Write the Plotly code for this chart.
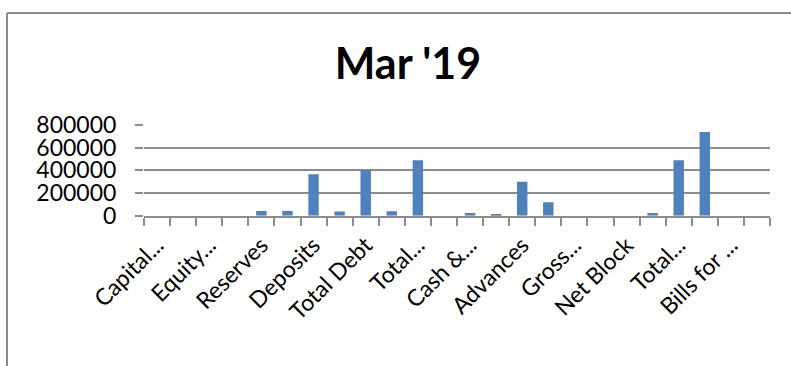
import plotly.graph_objects as go

W, H = 791, 366

categories = [
    "Capital and Liabilities:", "Total Share Capital", "Equity Share Capital", "Share Application Money",
    "Reserves", "Net Worth", "Deposits", "Borrowings", "Total Debt",
    "Other Liabilities & Provisions", "Total Liabilities", "Assets",
    "Cash & Balances with RBI", "Balance with Banks, Money at Call", "Advances", "Investments",
    "Gross Block", "Accumulated Depreciation", "Net Block", "Other Assets",
    "Total Assets", "Contingent Liabilities", "Bills for collection", "Book Value (Rs)",
]
tick_labels = [
    "Capital...", "", "Equity...", "", "Reserves", "", "Deposits", "", "Total Debt", "",
    "Total...", "", "Cash &...", "", "Advances", "", "Gross...", "", "Net Block", "",
    "Total...", "", "Bills for ...", "",
]
values = [
    0, 0, 0, 0, 41000, 41000, 365000, 38000, 403000, 39000,
    488000, 0, 24000, 14000, 300000, 118000, 0, 0, 0, 24000,
    488000, 738000, 0, 0,
]
y_ticks = [0, 200000, 400000, 600000, 800000]

x0, x1 = 144, 770
y_top, y_bot = 125, 215.7

fig = go.Figure(go.Bar(x=categories, y=values, marker=dict(color="#4F81BD", line=dict(width=0))))

font_main = "Lato, 'Open Sans', sans-serif"
fig.update_layout(
    width=W, height=H,
    margin=dict(l=0, r=0, t=0, b=0, autoexpand=False),
    paper_bgcolor="white", plot_bgcolor="white",
    showlegend=False,
    bargap=0.6,
    font=dict(family=font_main, size=22, color="black"),
    title=dict(text="<b>Mar '19</b>", x=408 / W, xanchor="center",
               y=1 - 64 / H, yanchor="middle",
               font=dict(family=font_main, size=43, color="black")),
    xaxis=dict(
        domain=[x0 / W, x1 / W],
        type="category",
        tickvals=categories, ticktext=tick_labels,
        tickson="boundaries",
        ticks="outside", ticklen=8, tickcolor="#8C8C8C", tickwidth=2,
        tickangle=-45,
        ticklabelstandoff=5,
        showgrid=False, showline=True, linecolor="#8C8C8C", linewidth=2,
        tickfont=dict(family=font_main, size=23),
        range=[-0.5, 23.5],
        automargin=False,
    ),
    yaxis=dict(
        domain=[1 - y_bot / H, 1 - y_top / H],
        range=[0, 800000],
        tickvals=y_ticks, ticktext=[str(v) for v in y_ticks],
        ticks="outside", ticklen=8, tickcolor="#8C8C8C", tickwidth=2,
        ticklabelstandoff=14,
        showgrid=True, gridcolor="#8C8C8C", gridwidth=2,
        zeroline=False, showline=False,
        tickfont=dict(family=font_main, size=23),
        automargin=False,
    ),
    shapes=[
        dict(type="line", xref="paper", yref="paper", x0=7 / W, x1=1.01, y0=1 - 13 / H, y1=1 - 13 / H,
             line=dict(color="#8C8C8C", width=2)),
        dict(type="line", xref="paper", yref="paper", x0=7 / W, x1=7 / W, y0=1 - 13 / H, y1=-0.01,
             line=dict(color="#8C8C8C", width=2)),
    ],
)

fig.write_html("out.html")
